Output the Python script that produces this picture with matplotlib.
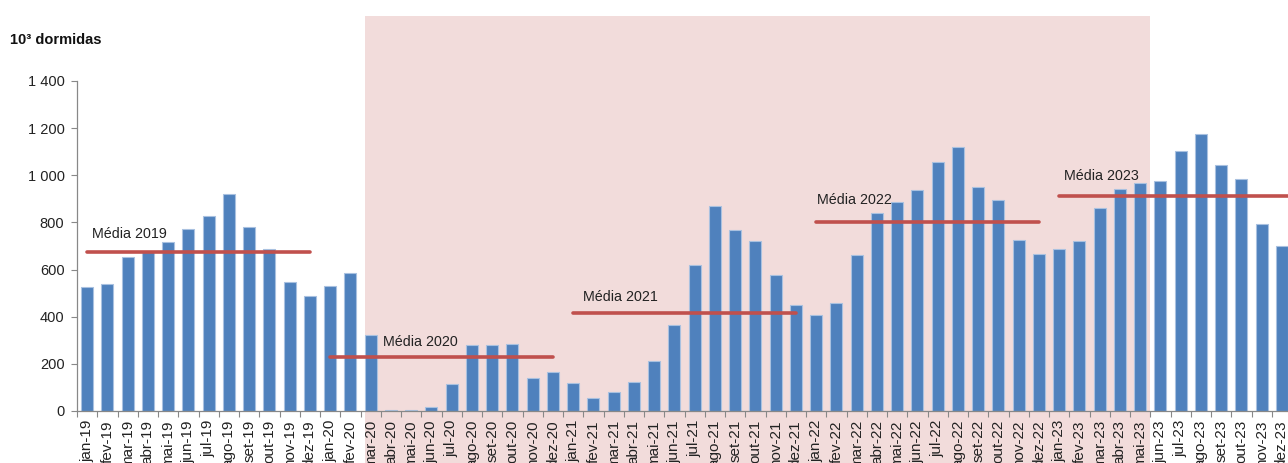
import matplotlib
matplotlib.use("Agg")
import matplotlib.pyplot as plt
import matplotlib.transforms as mtransforms
from matplotlib.patches import Rectangle

plt.rcParams['font.family'] = ['Liberation Sans', 'DejaVu Sans']

months = ["jan", "fev", "mar", "abr", "mai", "jun", "jul", "ago", "set", "out", "nov", "dez"]
years = ["19", "20", "21", "22", "23"]
categories = [f"{m}-{y}" for y in years for m in months]

values = [
    525, 540, 653, 675, 716, 771, 829, 919, 779, 686, 546, 489,   # 2019
    530, 584, 322, 3, 3, 17, 115, 281, 281, 284, 139, 165,        # 2020
    117, 54, 82, 122, 214, 364, 619, 870, 768, 723, 578, 450,     # 2021
    406, 460, 662, 841, 888, 936, 1055, 1121, 952, 897, 727, 667, # 2022
    689, 721, 861, 941, 967, 974, 1104, 1174, 1045, 984, 795, 701 # 2023
]

avg_labels = ["Média 2019", "Média 2020", "Média 2021", "Média 2022", "Média 2023"]
avg_values = [676, 228, 414, 802, 913]

yticks = [0, 200, 400, 600, 800, 1000, 1200, 1400]
ytick_labels = ["0", "200", "400", "600", "800", "1 000", "1 200", "1 400"]

W, H = 1288, 463
fig = plt.figure(figsize=(W / 100, H / 100), dpi=100)
left_px, right_px, top_px, bot_px = 77, 1292, 81, 411
ax = fig.add_axes([left_px / W, (H - bot_px) / H, (right_px - left_px) / W, (bot_px - top_px) / H])
ax.set_facecolor('none')

x = list(range(len(categories)))
ax.bar(x, values, width=0.6, color="#4F81BD", edgecolor="#A9C1E0", linewidth=0.8, zorder=2)

# Average lines per year
for k, (lab, v) in enumerate(zip(avg_labels, avg_values)):
    x0 = k * 12
    x1 = k * 12 + 11
    if k == len(avg_labels) - 1:
        x1 = k * 12 + 12
    ax.plot([x0, x1], [v, v], color="#C0504D", linewidth=2.6, solid_capstyle='round', zorder=3, clip_on=False)

label_dx = [0.23, 2.61, 0.49, 0.06, 0.24]
label_dy = [74, 66, 68, 93, 85]
for k, (lab, v) in enumerate(zip(avg_labels, avg_values)):
    ax.text(k * 12 + label_dx[k], v + label_dy[k], lab, fontsize=10.3, color="#222222",
            ha='left', va='center', zorder=4)

# Shaded period (pandemic)
trans = mtransforms.blended_transform_factory(ax.transData, fig.transFigure)
rect = Rectangle((13.72, 0), 52.49 - 13.72, (H - 16) / H, transform=trans,
                 facecolor="#F2DCDB", edgecolor='none', zorder=-5)
fig.add_artist(rect)

ax.set_xlim(-0.5, len(categories) - 0.5)
ax.set_ylim(0, 1400)
ax.set_yticks(yticks)
ax.set_yticklabels(ytick_labels, fontsize=10.5, color="#222222")
ax.set_xticks(x)
ax.set_xticklabels(categories, rotation=90, fontsize=11, color="#222222")
ax.set_xticks([i - 0.5 for i in range(len(categories) + 1)], minor=True)
ax.tick_params(axis='x', which='major', length=0, pad=6.5)
ax.tick_params(axis='x', which='minor', length=4.5, color="#888888", width=0.8)
ax.tick_params(axis='y', which='major', length=4, color="#888888", width=0.8, pad=5)

for s in ['top', 'right']:
    ax.spines[s].set_visible(False)
for s in ['left', 'bottom']:
    ax.spines[s].set_color("#888888")
    ax.spines[s].set_linewidth(0.9)

fig.text(10 / W, (H - 40) / H, "10³ dormidas", fontsize=10.5, fontweight='bold',
         ha='left', va='center', color="#111111")

fig.savefig("out.png", dpi=100)
